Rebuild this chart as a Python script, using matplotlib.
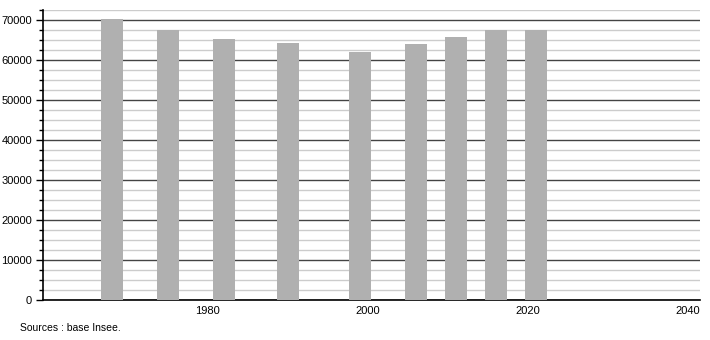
import matplotlib
matplotlib.use("Agg")
import matplotlib.pyplot as plt
from matplotlib.ticker import MultipleLocator

years = [1968, 1975, 1982, 1990, 1999, 2006, 2011, 2016, 2021]
population = [70300, 67400, 65300, 64200, 62050, 63950, 65750, 67400, 67400]
xticks = [1980, 2000, 2020, 2040]
yticks = [0, 10000, 20000, 30000, 40000, 50000, 60000, 70000]

plt.rcParams['font.family'] = ['Liberation Sans', 'DejaVu Sans']

fig = plt.figure(figsize=(7.1, 3.4), dpi=100)
ax = fig.add_axes([43/710, 1-300/340, (700-43)/710, (300-10)/340])

ax.set_xlim(1959.4, 2041.5)
ax.set_ylim(0, 72500)

ax.yaxis.set_major_locator(MultipleLocator(10000))
ax.yaxis.set_minor_locator(MultipleLocator(2500))
ax.set_yticks(yticks)
ax.set_yticklabels([str(v) for v in yticks])
ax.set_xticks(xticks)
ax.set_xticklabels([str(v) for v in xticks])

ax.grid(True, which='minor', axis='y', color='#cccccc', linewidth=1.0)
ax.grid(True, which='major', axis='y', color='#444444', linewidth=1.0)
ax.set_axisbelow(True)

ax.bar(years, population, width=2.7, color='#b0b0b0', zorder=3)

for s in ['top', 'right']:
    ax.spines[s].set_visible(False)
ax.spines['left'].set_color('black')
ax.spines['bottom'].set_color('black')
ax.spines['left'].set_linewidth(1.2)
ax.spines['bottom'].set_linewidth(1.2)

ax.tick_params(axis='y', which='major', length=5, width=1, labelsize=8, pad=3)
ax.tick_params(axis='y', which='minor', length=3, width=1)
ax.tick_params(axis='x', which='major', length=0, labelsize=8, pad=4)

fig.text(20/710, 1-328/340, "Sources : base Insee.", fontsize=7.5, va='center', ha='left')

fig.savefig("out.png", dpi=100)
